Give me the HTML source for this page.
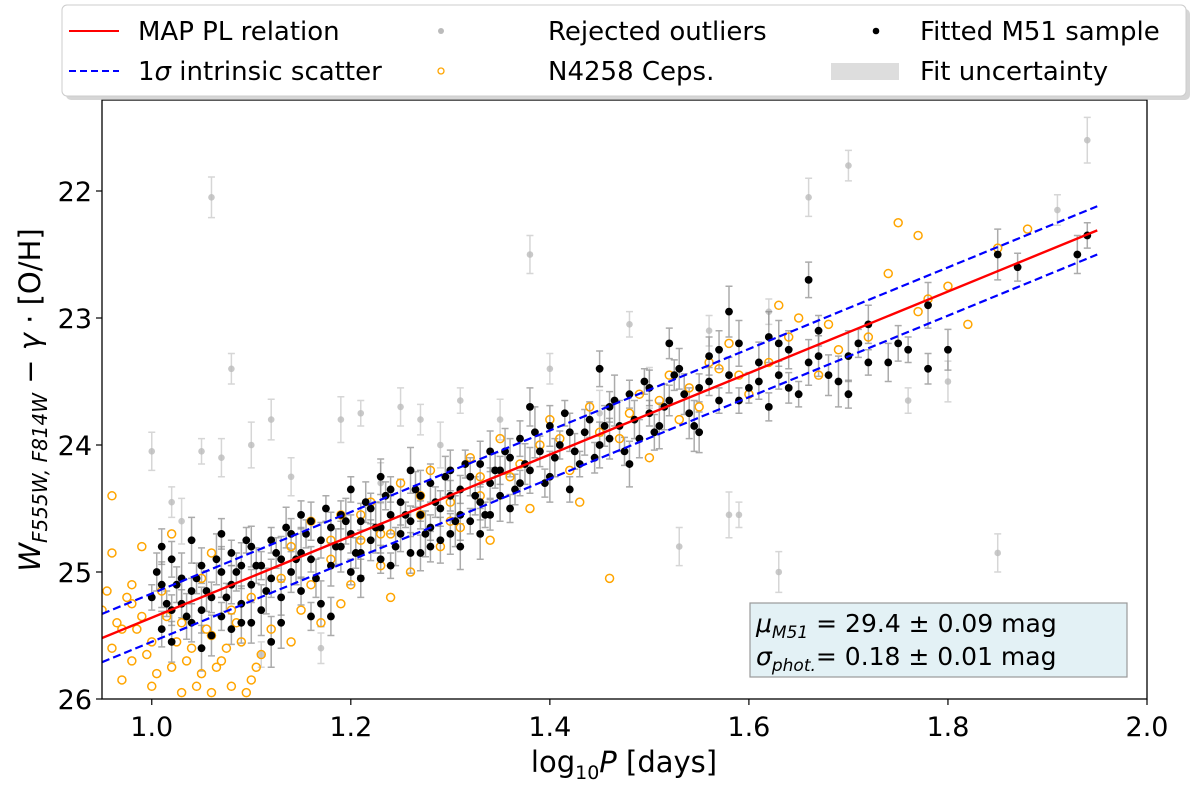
<!DOCTYPE html>
<html><head><meta charset="utf-8">
<style>
html,body{margin:0;padding:0;background:#fff;}
svg{display:block;font-family:"DejaVu Sans","Liberation Sans",sans-serif;}
</style></head>
<body>
<svg id="chart" width="1200" height="787" viewBox="0 0 1200 787" xmlns="http://www.w3.org/2000/svg">
  <g id="plot"></g>
  <rect x="102" y="100" width="1045" height="599" fill="none" stroke="#000" stroke-width="1.3"/>
  <g id="axes"></g>
  <text x="624" y="772" font-size="29" text-anchor="middle">log<tspan font-size="19" dy="7">10</tspan><tspan dy="-7" font-style="italic">P</tspan> [days]</text>
  <text transform="translate(40,400) rotate(-90)" font-size="29" text-anchor="middle"><tspan font-style="italic">W</tspan><tspan font-size="20" dy="7" font-style="italic">F555W, F814W</tspan><tspan dy="-7"> − </tspan><tspan font-style="italic">γ</tspan> ·  [O/H]</text>
  <g>
    <rect x="750" y="603" width="377" height="74" fill="#e3f1f5" stroke="#999" stroke-width="1.2"/>
    <text x="756" y="632" font-size="25"><tspan font-style="italic">μ</tspan><tspan font-size="17" dy="6" font-style="italic">M51</tspan><tspan dy="-6">  =  29.4 ± 0.09 mag</tspan></text>
    <text x="756" y="665" font-size="25"><tspan font-style="italic">σ</tspan><tspan font-size="17" dy="6" font-style="italic">phot.</tspan><tspan dy="-6">=  0.18 ± 0.01 mag</tspan></text>
  </g>
  <g>
    <rect x="64" y="7" width="1124" height="91" rx="5" fill="#bbb" opacity="0.6" transform="translate(2,2)"/>
    <rect x="62" y="5" width="1124" height="91" rx="5" fill="#fff" stroke="#ccc" stroke-width="1"/>
    <g><line x1="69" y1="31" x2="119" y2="31" stroke="#f00" stroke-width="2"/><text x="138" y="40" font-size="26">MAP PL relation</text></g>
    <g><line x1="69" y1="71" x2="119" y2="71" stroke="#00f" stroke-width="2" stroke-dasharray="7,4"/><text x="138" y="80" font-size="26">1<tspan font-style="italic">σ</tspan> intrinsic scatter</text></g>
    <g><circle cx="441" cy="31" r="3" fill="#bbb"/><text x="548" y="40" font-size="26">Rejected outliers</text></g>
    <g><circle cx="441" cy="71" r="3" fill="none" stroke="orange" stroke-width="1.3"/><text x="548" y="80" font-size="26">N4258 Ceps.</text></g>
    <g><circle cx="876" cy="31" r="3.3" fill="#000"/><text x="920" y="40" font-size="26">Fitted M51 sample</text></g>
    <g><rect x="831" y="63" width="68" height="17" fill="#ddd"/><text x="920" y="80" font-size="26">Fit uncertainty</text></g>
  </g>
</svg>
<script>
const xTicks=[1.0,1.2,1.4,1.6,1.8,2.0];
const yTicks=[22,23,24,25,26];
const fitStart=[0.95,25.52];
const fitEnd=[1.95,22.31];
const scatterWidth=0.19;
const blackX=[1.00,1.01,1.01,1.02,1.02,1.03,1.03,1.04,1.04,1.05,1.05,1.06,1.06,1.07,1.07,1.08,1.08,1.09,1.09,1.10,1.10,1.11,1.11,1.12,1.12,1.13,1.13,1.14,1.14,1.15,1.15,1.16,1.16,1.17,1.17,1.18,1.18,1.19,1.19,1.20,1.20,1.21,1.21,1.22,1.22,1.23,1.23,1.24,1.24,1.25,1.25,1.26,1.26,1.27,1.27,1.28,1.28,1.29,1.29,1.30,1.30,1.31,1.31,1.32,1.32,1.33,1.33,1.34,1.34,1.35,1.35,1.36,1.37,1.37,1.38,1.39,1.40,1.40,1.41,1.42,1.43,1.44,1.45,1.46,1.46,1.47,1.48,1.49,1.50,1.50,1.51,1.52,1.53,1.54,1.55,1.56,1.57,1.58,1.59,1.60,1.61,1.62,1.63,1.64,1.65,1.66,1.66,1.67,1.68,1.70,1.70,1.72,1.72,1.75,1.78,1.78,1.80,1.85,1.87,1.93,1.94,1.02,1.05,1.08,1.10,1.12,1.15,1.18,1.20,1.23,1.26,1.28,1.30,1.33,1.36,1.38,1.42,1.45,1.48,1.52,1.55,1.58,1.62,
1.005,1.015,1.025,1.035,1.045,1.055,1.065,1.075,1.085,1.095,1.105,1.115,1.125,1.135,1.145,1.155,1.165,1.175,1.185,1.195,1.205,1.215,1.225,1.235,1.245,1.255,1.265,1.275,1.285,1.295,1.305,1.315,1.325,1.335,1.345,1.355,1.365,1.375,1.385,1.395,1.405,1.415,1.425,1.435,1.445,1.455,1.465,1.475,1.485,1.495,1.505,1.515,1.525,1.535,1.545,1.56,1.57,1.59,1.61,1.63,1.64,1.67,1.69,1.71,1.74,1.76,1.01,1.04,1.07,1.09,1.13,1.16,1.21,1.24,1.27,1.31,1.34];
const blackY=[25.20,25.45,25.10,25.30,25.55,25.05,25.25,25.40,25.15,24.95,25.30,25.20,25.50,25.00,25.35,25.10,24.85,25.25,24.95,25.10,24.80,25.30,24.95,25.05,24.75,25.20,24.90,24.70,25.00,24.85,25.15,24.60,24.90,24.75,25.25,24.65,24.95,24.80,24.55,24.70,25.00,24.60,24.85,24.50,24.75,24.65,24.90,24.55,24.35,24.70,24.45,24.60,24.85,24.40,24.55,24.30,24.65,24.50,24.75,24.40,24.20,24.55,24.35,24.25,24.60,24.45,24.15,24.30,24.05,24.40,24.20,24.10,24.30,23.95,24.20,24.05,23.85,24.25,24.00,23.90,24.15,23.80,24.00,23.70,23.95,23.85,23.60,23.95,23.75,23.55,23.85,23.65,23.40,23.75,23.55,23.30,23.65,23.45,23.20,23.55,23.35,23.15,23.45,23.25,23.60,22.70,23.35,23.10,23.45,23.30,23.60,23.05,23.35,23.20,22.90,23.40,23.25,22.50,22.60,22.50,22.35,24.90,25.60,25.45,25.40,25.55,24.55,25.35,24.35,24.25,24.20,24.80,24.70,24.70,24.50,23.70,24.35,23.40,24.15,23.20,23.90,22.95,23.70,
25.00,25.25,25.10,25.35,25.05,25.15,24.90,25.20,25.00,24.75,24.95,25.15,24.85,24.65,24.90,24.70,25.05,24.50,24.80,24.60,24.85,24.45,24.65,24.40,24.80,24.55,24.35,24.70,24.45,24.25,24.60,24.15,24.40,24.55,24.20,24.05,24.35,24.15,23.90,24.30,24.10,23.75,24.05,23.90,24.10,23.85,23.65,24.05,23.80,23.50,23.90,23.70,23.45,23.60,23.85,23.50,23.25,23.65,23.50,23.20,23.55,23.30,23.50,23.20,23.35,23.25,24.80,24.75,24.70,25.40,25.40,25.35,25.05,24.95,24.85,24.80,24.55];
const blackErr=[0.10,0.14,0.18,0.12,0.16,0.20,0.11,0.15];
const orangeX=[0.95,0.96,0.96,0.97,0.97,0.98,0.98,0.99,0.99,1.00,1.00,1.01,1.02,1.03,1.03,1.04,1.05,1.05,1.06,1.06,1.07,1.08,1.08,1.09,1.10,1.10,1.12,1.13,1.14,1.15,1.16,1.17,1.18,1.19,1.20,1.21,1.22,1.23,1.24,1.25,1.26,1.27,1.28,1.29,1.30,1.31,1.32,1.33,1.34,1.35,1.36,1.38,1.39,1.40,1.42,1.43,1.44,1.46,1.47,1.49,1.50,1.52,1.53,1.55,1.57,1.58,1.60,1.62,1.65,1.67,1.69,1.72,1.74,1.75,1.77,1.78,1.80,1.82,1.85,1.88,1.77,1.63,1.02,1.06,1.11,1.14,1.19,1.24,0.96,0.98,
0.955,0.965,0.975,0.985,0.995,1.005,1.015,1.025,1.035,1.045,1.055,1.065,1.075,1.085,1.095,1.105,1.16,1.18,1.21,1.23,1.27,1.30,1.33,1.37,1.41,1.45,1.48,1.51,1.54,1.56,1.59,1.64,1.68];
const orangeY=[25.30,25.60,24.40,25.45,25.85,25.10,25.70,25.35,24.80,25.90,25.55,25.15,25.75,25.40,25.95,25.60,25.80,25.05,25.95,25.50,25.70,25.30,25.90,25.55,25.20,25.85,25.45,25.05,24.80,25.30,24.60,25.40,24.90,24.55,25.10,24.75,24.45,24.95,24.70,24.30,25.00,24.55,24.20,24.80,24.45,24.65,24.10,24.40,24.75,23.95,24.25,24.50,24.00,23.80,24.20,24.45,23.70,25.05,23.95,23.60,24.10,23.45,23.80,23.70,23.40,23.20,23.60,23.35,23.00,23.45,23.25,23.15,22.65,22.25,22.95,22.85,22.75,23.05,22.45,22.30,22.35,22.90,24.70,24.85,25.65,25.55,25.25,25.20,24.85,25.25,
25.15,25.40,25.20,25.45,25.65,25.80,25.35,25.55,25.70,25.90,25.45,25.75,25.60,25.40,25.95,25.75,25.10,24.75,24.55,24.70,24.40,24.60,24.25,24.15,23.95,23.90,23.75,23.65,23.55,23.35,23.45,23.15,23.05];
const grayX=[1.00,1.02,1.03,1.05,1.06,1.07,1.08,1.10,1.11,1.12,1.14,1.17,1.19,1.21,1.23,1.25,1.27,1.29,1.31,1.35,1.38,1.40,1.45,1.48,1.50,1.53,1.56,1.58,1.62,1.63,1.66,1.70,1.73,1.76,1.80,1.85,1.91,1.94,1.59];
const grayY=[24.05,24.45,24.60,24.05,22.05,24.10,23.40,24.00,25.65,23.80,24.25,25.60,23.80,23.75,24.30,23.70,23.80,24.00,23.65,23.80,22.50,23.40,23.75,23.05,23.55,24.80,23.10,24.55,22.95,25.00,22.05,21.80,25.50,23.65,23.50,24.85,22.15,21.60,24.55];
const grayErr=[0.15,0.12,0.18,0.10,0.16];

const NS='http://www.w3.org/2000/svg';
const X0=102,X1=1147,Y0=100,Y1=699;
function xs(v){return X0+(v-0.95)/(2.0-0.95)*(X1-X0);}
function ys(v){return Y1-(26-v)*127;}
function mk(tag,attrs,parent){const e=document.createElementNS(NS,tag);for(const k in attrs)e.setAttribute(k,attrs[k]);parent.appendChild(e);return e;}
const plot=document.getElementById('plot');
const axes=document.getElementById('axes');
const clip=mk('clipPath',{id:'clp'},plot);
mk('rect',{x:X0,y:Y0,width:X1-X0,height:Y1-Y0},clip);
const g=mk('g',{'clip-path':'url(#clp)'},plot);

function errbar(x,y,e,col,op){
  const px=xs(x),p1=ys(y-e),p2=ys(y+e);
  const eb=mk('path',{d:`M${px},${p1}V${p2}M${px-3.5},${p1}H${px+3.5}M${px-3.5},${p2}H${px+3.5}`,stroke:col,'stroke-width':1.5,fill:'none',opacity:op},g);
  
  
}
grayX.forEach((x,i)=>{errbar(x,grayY[i],grayErr[i%grayErr.length],'#bbb',0.6);});
grayX.forEach((x,i)=>{
  const c=mk('circle',{cx:xs(x),cy:ys(grayY[i]),r:3.3,fill:'#bbb',opacity:0.8},g);
  
  
});
blackX.forEach((x,i)=>{errbar(x,blackY[i],blackErr[i%blackErr.length],'#888',0.7);});
orangeX.forEach((x,i)=>{
  const c=mk('circle',{cx:xs(x),cy:ys(orangeY[i]),r:4,fill:'none',stroke:'orange','stroke-width':1.5},g);
  
  
});
blackX.forEach((x,i)=>{
  const c=mk('circle',{cx:xs(x),cy:ys(blackY[i]),r:3.9,fill:'#000'},g);
  
  
});
const fl=mk('line',{x1:xs(fitStart[0]),y1:ys(fitStart[1]),x2:xs(fitEnd[0]),y2:ys(fitEnd[1]),stroke:'#f00','stroke-width':2.4},g);


[-scatterWidth,scatterWidth].forEach(d=>{
  const l=mk('line',{x1:xs(fitStart[0]),y1:ys(fitStart[1]+d),x2:xs(fitEnd[0]),y2:ys(fitEnd[1]+d),stroke:'#00f','stroke-width':2.2,'stroke-dasharray':'8,4'},g);
  
  
});
xTicks.forEach(t=>{
  const px=xs(t);
  mk('line',{x1:px,y1:Y1,x2:px,y2:Y1+6,stroke:'#000','stroke-width':1.2},axes);
  const tx=mk('text',{x:px,y:Y1+37,'font-size':27,'text-anchor':'middle'},axes);
  tx.textContent=t.toFixed(1);
  
  
});
yTicks.forEach(t=>{
  const py=ys(t);
  mk('line',{x1:X0-6,y1:py,x2:X0,y2:py,stroke:'#000','stroke-width':1.2},axes);
  const tx=mk('text',{x:X0-10,y:py+10,'font-size':27,'text-anchor':'end'},axes);
  tx.textContent=String(t);
  
  
});
</script>
</body></html>
